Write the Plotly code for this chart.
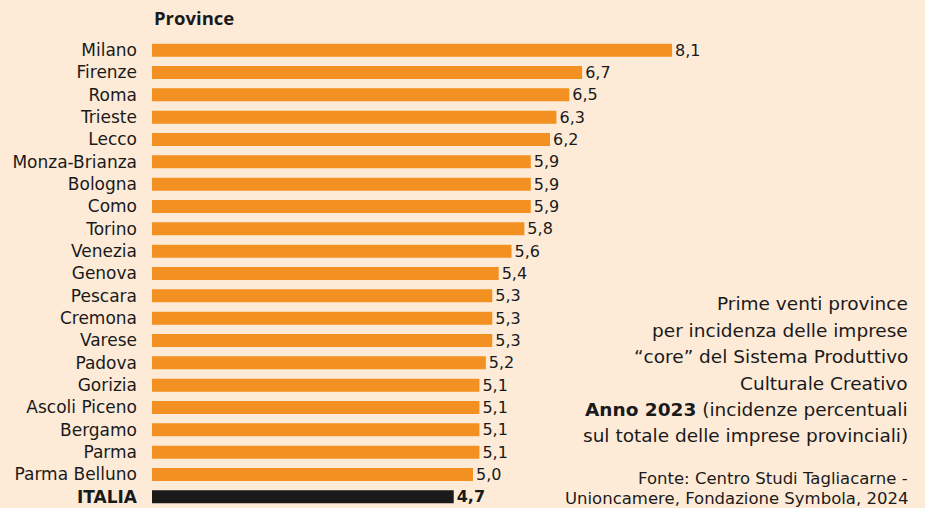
import plotly.graph_objects as go

provinces = ["Milano", "Firenze", "Roma", "Trieste", "Lecco", "Monza-Brianza", "Bologna",
             "Como", "Torino", "Venezia", "Genova", "Pescara", "Cremona", "Varese", "Padova",
             "Gorizia", "Ascoli Piceno", "Bergamo", "Parma", "Parma Belluno", "ITALIA"]
values = [8.1, 6.7, 6.5, 6.3, 6.2, 5.9, 5.9, 5.9, 5.8, 5.6, 5.4, 5.3, 5.3, 5.3, 5.2,
          5.1, 5.1, 5.1, 5.1, 5.0, 4.7]

note_lines = ["Prime venti province", "per incidenza delle imprese",
              "“core” del Sistema Produttivo", "Culturale Creativo",
              "<b>Anno 2023</b> (incidenze percentuali", "sul totale delle imprese provinciali)"]
source_lines = ["Fonte: Centro Studi Tagliacarne -", "Unioncamere, Fondazione Symbola, 2024"]

BG = "#FDEBD8"
ORANGE = "#F29021"
DARK = "#1a1a1a"
FONT = "DejaVu Sans"

colors = [DARK if p == "ITALIA" else ORANGE for p in provinces]
texts = []
for p, v in zip(provinces, values):
    s = f"{v:.1f}".replace(".", ",")
    texts.append(f"<b>{s}</b>" if p == "ITALIA" else s)
ticktext = [f"<b>{p}</b>" if p == "ITALIA" else p for p in provinces]

fig = go.Figure(go.Bar(
    x=values, y=provinces, orientation="h",
    marker=dict(color=colors, line=dict(width=0)),
    text=texts, textposition="outside", cliponaxis=False, constraintext="none",
    textfont=dict(family=FONT, size=16, color=DARK),
    outsidetextfont=dict(family=FONT, size=16, color=DARK),
    width=0.58,
))

H = 508
T = 39
PH = 469
def py(px):
    return (H - px) / PH

annotations = [
    dict(text="<b>Province</b>", xref="paper", yref="paper", x=0, y=1,
         xanchor="left", yanchor="bottom", yshift=7, showarrow=False,
         font=dict(family="Open Sans", size=18.5, color=DARK)),
]
for txt, ypx in zip(note_lines, [304, 330, 356, 383, 409, 435]):
    annotations.append(dict(text=txt, xref="paper", yref="paper", x=1, xshift=116,
                            y=py(ypx), xanchor="right", yanchor="middle", align="right",
                            showarrow=False, font=dict(family=FONT, size=18.5, color=DARK)))
for txt, ypx in zip(source_lines, [478, 498]):
    annotations.append(dict(text=txt, xref="paper", yref="paper", x=1, xshift=116,
                            y=py(ypx), xanchor="right", yanchor="middle", align="right",
                            showarrow=False, font=dict(family=FONT, size=16.5, color=DARK)))

fig.update_layout(
    width=925, height=H,
    paper_bgcolor=BG, plot_bgcolor=BG,
    margin=dict(l=152, r=131, t=T, b=0),
    showlegend=False,
    font=dict(family=FONT, color=DARK),
    xaxis=dict(range=[0, 10], visible=False, fixedrange=True),
    yaxis=dict(categoryorder="array", categoryarray=provinces, autorange=False,
               range=[20.5, -0.5], tickvals=provinces, ticktext=ticktext,
               showgrid=False, zeroline=False, showline=False, ticks="",
               ticklabelstandoff=14, tickfont=dict(family=FONT, size=17, color=DARK)),
    annotations=annotations,
)

fig.write_html("out.html", config={"displayModeBar": False})
with open("out.html", encoding="utf-8") as f:
    html = f.read()
html = html.replace("<head>", "<head><style>html,body{margin:0;padding:0;overflow:hidden}</style>", 1)
with open("out.html", "w", encoding="utf-8") as f:
    f.write(html)
